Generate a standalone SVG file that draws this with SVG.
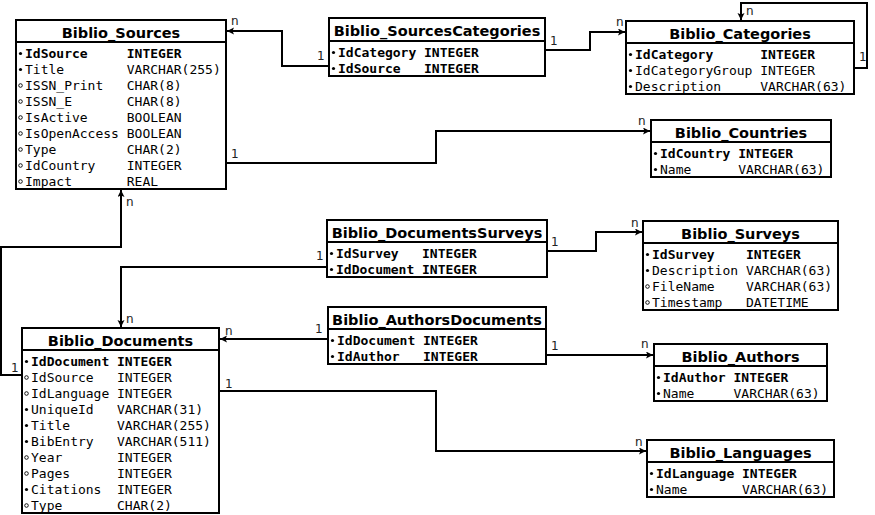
<svg xmlns="http://www.w3.org/2000/svg" width="875" height="515" viewBox="0 0 875 515">
<style>
.box{fill:#fff;stroke:#000;stroke-width:2}
.sep{stroke:#000;stroke-width:2}
.t{font-family:"DejaVu Sans",sans-serif;font-weight:bold;font-size:14.5px;text-anchor:middle;fill:#000}
.r{font-family:"DejaVu Sans Mono",monospace;font-size:13px;fill:#000}
.b{font-weight:bold}
.f{fill:#000}
.h{fill:#fff;stroke:#000;stroke-width:0.9}
.c{fill:none;stroke:#000;stroke-width:2}
.l{font-family:"DejaVu Sans",sans-serif;font-size:12px;fill:#222}
</style>
<defs>
<marker id="arr" markerUnits="userSpaceOnUse" markerWidth="8" markerHeight="8" refX="7" refY="3.5" orient="auto">
<path d="M0,0 L7,3.5 L0,7 L1.5,3.5 z" fill="#000"/>
</marker>
</defs>
<g id="connectors">
<path class="c" d="M329,66 H282 V31 H227" marker-end="url(#arr)"/>
<path class="c" d="M545,50 H590 V32 H625" marker-end="url(#arr)"/>
<path class="c" d="M854,68 H867 V3 H741 V20" marker-end="url(#arr)"/>
<path class="c" d="M226,163 H436 V131 H650" marker-end="url(#arr)"/>
<path class="c" d="M22,375 H1 V247 H121 V190" marker-end="url(#arr)"/>
<path class="c" d="M327,267 H121 V327" marker-end="url(#arr)"/>
<path class="c" d="M547,251 H596 V232 H642" marker-end="url(#arr)"/>
<path class="c" d="M328,339 H220" marker-end="url(#arr)"/>
<path class="c" d="M546,355 H653" marker-end="url(#arr)"/>
<path class="c" d="M219,391 H436 V451 H646" marker-end="url(#arr)"/>
<text class="l" x="231" y="25">n</text>
<text class="l" x="317" y="60">1</text>
<text class="l" x="550" y="45">1</text>
<text class="l" x="616" y="26">n</text>
<text class="l" x="746" y="15">n</text>
<text class="l" x="859" y="61">1</text>
<text class="l" x="231" y="158">1</text>
<text class="l" x="638" y="125">n</text>
<text class="l" x="126" y="206">n</text>
<text class="l" x="11" y="372">1</text>
<text class="l" x="126" y="323">n</text>
<text class="l" x="316" y="260">1</text>
<text class="l" x="551" y="246">1</text>
<text class="l" x="631" y="227">n</text>
<text class="l" x="225" y="335">n</text>
<text class="l" x="315" y="333">1</text>
<text class="l" x="551" y="350">1</text>
<text class="l" x="641" y="348">n</text>
<text class="l" x="225" y="388">1</text>
<text class="l" x="635" y="446">n</text>
</g>
<g id="Biblio_Sources">
<rect class="box" x="16" y="20" width="210" height="169"/>
<line class="sep" x1="16" y1="42" x2="226" y2="42"/>
<text class="t" x="121" y="38">Biblio_Sources</text>
<circle class="f" cx="20.5" cy="53.5" r="1.6"/>
<circle class="f" cx="20.5" cy="69.5" r="1.6"/>
<circle class="h" cx="20.5" cy="85.5" r="1.8"/>
<circle class="h" cx="20.5" cy="101.5" r="1.8"/>
<circle class="h" cx="20.5" cy="117.5" r="1.8"/>
<circle class="h" cx="20.5" cy="133.5" r="1.8"/>
<circle class="h" cx="20.5" cy="149.5" r="1.8"/>
<circle class="h" cx="20.5" cy="165.5" r="1.8"/>
<circle class="h" cx="20.5" cy="181.5" r="1.8"/>
<text class="r b" x="25" y="58">IdSource</text><text class="r b" x="126.8" y="58">INTEGER</text>
<text class="r" x="25" y="74">Title</text><text class="r" x="126.8" y="74">VARCHAR(255)</text>
<text class="r" x="25" y="90">ISSN_Print</text><text class="r" x="126.8" y="90">CHAR(8)</text>
<text class="r" x="25" y="106">ISSN_E</text><text class="r" x="126.8" y="106">CHAR(8)</text>
<text class="r" x="25" y="122">IsActive</text><text class="r" x="126.8" y="122">BOOLEAN</text>
<text class="r" x="25" y="138">IsOpenAccess</text><text class="r" x="126.8" y="138">BOOLEAN</text>
<text class="r" x="25" y="154">Type</text><text class="r" x="126.8" y="154">CHAR(2)</text>
<text class="r" x="25" y="170">IdCountry</text><text class="r" x="126.8" y="170">INTEGER</text>
<text class="r" x="25" y="186">Impact</text><text class="r" x="126.8" y="186">REAL</text>
</g>
<g id="Biblio_SourcesCategories">
<rect class="box" x="329" y="18" width="216" height="58"/>
<line class="sep" x1="329" y1="41" x2="545" y2="41"/>
<text class="t" x="437" y="36">Biblio_SourcesCategories</text>
<circle class="f" cx="333.5" cy="52.5" r="1.6"/>
<circle class="f" cx="333.5" cy="68.5" r="1.6"/>
<text class="r b" x="338" y="57">IdCategory</text><text class="r b" x="424" y="57">INTEGER</text>
<text class="r b" x="338" y="73">IdSource</text><text class="r b" x="424" y="73">INTEGER</text>
</g>
<g id="Biblio_Categories">
<rect class="box" x="626" y="21" width="228" height="73"/>
<line class="sep" x1="626" y1="43" x2="854" y2="43"/>
<text class="t" x="740" y="39">Biblio_Categories</text>
<circle class="f" cx="630.5" cy="54.5" r="1.6"/>
<circle class="f" cx="630.5" cy="70.5" r="1.6"/>
<circle class="f" cx="630.5" cy="86.5" r="1.6"/>
<text class="r b" x="635" y="59">IdCategory</text><text class="r b" x="760.3" y="59">INTEGER</text>
<text class="r" x="635" y="75">IdCategoryGroup</text><text class="r" x="760.3" y="75">INTEGER</text>
<text class="r" x="635" y="91">Description</text><text class="r" x="760.3" y="91">VARCHAR(63)</text>
</g>
<g id="Biblio_Countries">
<rect class="box" x="651" y="120" width="180" height="57"/>
<line class="sep" x1="651" y1="142" x2="831" y2="142"/>
<text class="t" x="741" y="138">Biblio_Countries</text>
<circle class="f" cx="655.5" cy="153.5" r="1.6"/>
<circle class="f" cx="655.5" cy="169.5" r="1.6"/>
<text class="r b" x="660" y="158">IdCountry</text><text class="r b" x="738.3" y="158">INTEGER</text>
<text class="r" x="660" y="174">Name</text><text class="r" x="738.3" y="174">VARCHAR(63)</text>
</g>
<g id="Biblio_DocumentsSurveys">
<rect class="box" x="327" y="220" width="220" height="57"/>
<line class="sep" x1="327" y1="242" x2="547" y2="242"/>
<text class="t" x="437" y="238">Biblio_DocumentsSurveys</text>
<circle class="f" cx="331.5" cy="253.5" r="1.6"/>
<circle class="f" cx="331.5" cy="269.5" r="1.6"/>
<text class="r b" x="336" y="258">IdSurvey</text><text class="r b" x="422" y="258">INTEGER</text>
<text class="r b" x="336" y="274">IdDocument</text><text class="r b" x="422" y="274">INTEGER</text>
</g>
<g id="Biblio_Surveys">
<rect class="box" x="643" y="221" width="195" height="89"/>
<line class="sep" x1="643" y1="243" x2="838" y2="243"/>
<text class="t" x="740.5" y="239">Biblio_Surveys</text>
<circle class="f" cx="647.5" cy="254.5" r="1.6"/>
<circle class="f" cx="647.5" cy="270.5" r="1.6"/>
<circle class="h" cx="647.5" cy="286.5" r="1.8"/>
<circle class="h" cx="647.5" cy="302.5" r="1.8"/>
<text class="r b" x="652" y="259">IdSurvey</text><text class="r b" x="746" y="259">INTEGER</text>
<text class="r" x="652" y="275">Description</text><text class="r" x="746" y="275">VARCHAR(63)</text>
<text class="r" x="652" y="291">FileName</text><text class="r" x="746" y="291">VARCHAR(63)</text>
<text class="r" x="652" y="307">Timestamp</text><text class="r" x="746" y="307">DATETIME</text>
</g>
<g id="Biblio_AuthorsDocuments">
<rect class="box" x="328" y="307" width="218" height="57"/>
<line class="sep" x1="328" y1="329" x2="546" y2="329"/>
<text class="t" x="437" y="325">Biblio_AuthorsDocuments</text>
<circle class="f" cx="332.5" cy="340.5" r="1.6"/>
<circle class="f" cx="332.5" cy="356.5" r="1.6"/>
<text class="r b" x="337" y="345">IdDocument</text><text class="r b" x="423" y="345">INTEGER</text>
<text class="r b" x="337" y="361">IdAuthor</text><text class="r b" x="423" y="361">INTEGER</text>
</g>
<g id="Biblio_Documents">
<rect class="box" x="22" y="328" width="197" height="185"/>
<line class="sep" x1="22" y1="350" x2="219" y2="350"/>
<text class="t" x="120.5" y="346">Biblio_Documents</text>
<circle class="f" cx="26.5" cy="361.5" r="1.6"/>
<circle class="h" cx="26.5" cy="377.5" r="1.8"/>
<circle class="h" cx="26.5" cy="393.5" r="1.8"/>
<circle class="f" cx="26.5" cy="409.5" r="1.6"/>
<circle class="f" cx="26.5" cy="425.5" r="1.6"/>
<circle class="f" cx="26.5" cy="441.5" r="1.6"/>
<circle class="h" cx="26.5" cy="457.5" r="1.8"/>
<circle class="h" cx="26.5" cy="473.5" r="1.8"/>
<circle class="f" cx="26.5" cy="489.5" r="1.6"/>
<circle class="h" cx="26.5" cy="505.5" r="1.8"/>
<text class="r b" x="31" y="366">IdDocument</text><text class="r b" x="117" y="366">INTEGER</text>
<text class="r" x="31" y="382">IdSource</text><text class="r" x="117" y="382">INTEGER</text>
<text class="r" x="31" y="398">IdLanguage</text><text class="r" x="117" y="398">INTEGER</text>
<text class="r" x="31" y="414">UniqueId</text><text class="r" x="117" y="414">VARCHAR(31)</text>
<text class="r" x="31" y="430">Title</text><text class="r" x="117" y="430">VARCHAR(255)</text>
<text class="r" x="31" y="446">BibEntry</text><text class="r" x="117" y="446">VARCHAR(511)</text>
<text class="r" x="31" y="462">Year</text><text class="r" x="117" y="462">INTEGER</text>
<text class="r" x="31" y="478">Pages</text><text class="r" x="117" y="478">INTEGER</text>
<text class="r" x="31" y="494">Citations</text><text class="r" x="117" y="494">INTEGER</text>
<text class="r" x="31" y="510">Type</text><text class="r" x="117" y="510">CHAR(2)</text>
</g>
<g id="Biblio_Authors">
<rect class="box" x="654" y="344" width="173" height="57"/>
<line class="sep" x1="654" y1="366" x2="827" y2="366"/>
<text class="t" x="740.5" y="362">Biblio_Authors</text>
<circle class="f" cx="658.5" cy="377.5" r="1.6"/>
<circle class="f" cx="658.5" cy="393.5" r="1.6"/>
<text class="r b" x="663" y="382">IdAuthor</text><text class="r b" x="733.5" y="382">INTEGER</text>
<text class="r" x="663" y="398">Name</text><text class="r" x="733.5" y="398">VARCHAR(63)</text>
</g>
<g id="Biblio_Languages">
<rect class="box" x="647" y="440" width="187" height="57"/>
<line class="sep" x1="647" y1="462" x2="834" y2="462"/>
<text class="t" x="740.5" y="458">Biblio_Languages</text>
<circle class="f" cx="651.5" cy="473.5" r="1.6"/>
<circle class="f" cx="651.5" cy="489.5" r="1.6"/>
<text class="r b" x="656" y="478">IdLanguage</text><text class="r b" x="742" y="478">INTEGER</text>
<text class="r" x="656" y="494">Name</text><text class="r" x="742" y="494">VARCHAR(63)</text>
</g>
</svg>
